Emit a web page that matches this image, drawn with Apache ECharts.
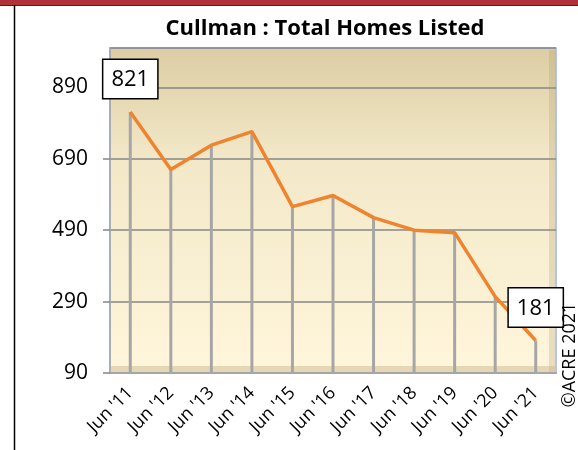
<!DOCTYPE html>
<html>
<head>
<meta charset="utf-8">
<script src="https://cdn.jsdelivr.net/npm/echarts@6/dist/echarts.min.js"></script>
<style>
  html, body { margin: 0; padding: 0; background: #fff; }
  #main { width: 578px; height: 450px; }
</style>
</head>
<body>
<div id="main"></div>
<script>
// Cullman total homes listed, June of each year
const categories = ["Jun '11", "Jun '12", "Jun '13", "Jun '14", "Jun '15", "Jun '16",
  "Jun '17", "Jun '18", "Jun '19", "Jun '20", "Jun '21"]
const homesListed = [821, 660, 728, 766, 556, 587, 525, 490, 483, 304, 181]
const yTicks = [90, 290, 490, 690, 890]

const font = 'Open Sans, Liberation Sans, Arial, sans-serif'

// only first and last points get a boxed label
const lastIdx = homesListed.length - 1
const lineData = homesListed.map((v, i) => {
  if (i === 0 || i === lastIdx) {
    return { value: v, label: { show: true } }
  }
  return v
})

const chart = echarts.init(document.getElementById('main'))

const option = {
  backgroundColor: '#fff',
  animation: false,
  title: {
    text: 'Cullman : Total Homes Listed',
    left: 320,
    top: 13,
    textAlign: 'center',
    textStyle: {
      fontFamily: font,
      fontWeight: 'bold',
      fontSize: 22,
      color: '#000'
    }
  },
  grid: {
    left: 110,
    right: 22,
    top: 48,
    bottom: 77,
    show: true,
    borderColor: '#9db3e8',
    borderWidth: 1.5,
    backgroundColor: new echarts.graphic.LinearGradient(0, 0, 0, 1, [
      { offset: 0, color: '#dccda3' },
      { offset: 0.35, color: '#f3e9c9' },
      { offset: 1, color: '#fff6dc' }
    ])
  },
  xAxis: {
    type: 'category',
    data: categories,
    boundaryGap: true,
    axisLine: { show: true, lineStyle: { color: '#a6a6a6', width: 2 } },
    axisTick: { show: false },
    axisLabel: {
      rotate: 45,
      margin: 17,
      fontFamily: font,
      fontSize: 18,
      color: '#000'
    }
  },
  yAxis: {
    type: 'value',
    min: 90,
    max: 1000,
    interval: 200,
    axisLine: { show: true, lineStyle: { color: '#a6a6a6', width: 1.5 } },
    axisTick: { show: true, length: 7, lineStyle: { color: '#868686', width: 1.5 } },
    axisLabel: {
      margin: 22,
      showMaxLabel: false,
      fontFamily: font,
      fontSize: 21,
      color: '#000',
      formatter: v => (yTicks.indexOf(v) >= 0 ? String(v) : '')
    },
    splitLine: { show: true, lineStyle: { color: '#868686', width: 1.5 } }
  },
  series: [
    {
      // grey drop lines from each point to the floor
      type: 'bar',
      data: homesListed,
      barWidth: 3,
      itemStyle: { color: '#a6a6a6' },
      z: 2,
      silent: true
    },
    {
      type: 'line',
      data: lineData,
      symbol: 'circle',
      symbolSize: 0,
      showAllSymbol: true,
      lineStyle: { color: '#f0842e', width: 3.5 },
      itemStyle: { color: '#f0842e' },
      z: 3,
      label: {
        show: false,
        position: 'top',
        distance: 14,
        fontFamily: font,
        fontSize: 22,
        color: '#000',
        backgroundColor: '#fff',
        borderColor: '#000',
        borderWidth: 1.5,
        padding: [9, 8, 7, 8]
      }
    }
  ],
  graphic: [
    { type: 'rect', shape: { x: 0, y: 0, width: 578, height: 5 }, style: { fill: '#b03238' }, z: 10 },
    { type: 'line', shape: { x1: 0, y1: 5.5, x2: 578, y2: 5.5 }, style: { stroke: '#5a1a1c', lineWidth: 1 }, z: 10 },
    { type: 'line', shape: { x1: 14.5, y1: 5, x2: 14.5, y2: 450 }, style: { stroke: '#000', lineWidth: 1.5 }, z: 10 },
    // side wall bevel of the 3d plot area
    { type: 'rect', shape: { x: 549, y: 50, width: 6, height: 322 }, style: { fill: 'rgba(170,150,100,0.25)' }, z: 1, silent: true },
    // floor of the 3d plot area
    { type: 'rect', shape: { x: 111, y: 366, width: 444, height: 6 }, style: { fill: 'rgba(200,180,130,0.45)' }, z: 1, silent: true },
    {
      type: 'text',
      x: 570,
      y: 355,
      rotation: Math.PI / 2,
      style: {
        text: '©ACRE 2021',
        fontFamily: font,
        fontSize: 18,
        fill: '#000',
        textAlign: 'center',
        textVerticalAlign: 'middle'
      },
      z: 10
    }
  ]
}

chart.setOption(option)
</script>
</body>
</html>
